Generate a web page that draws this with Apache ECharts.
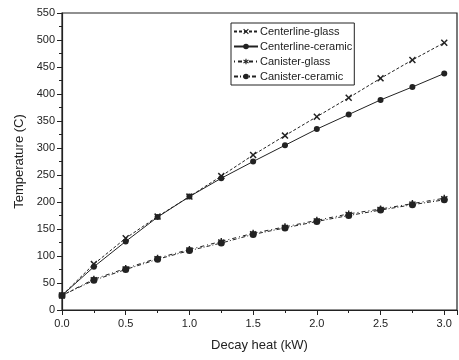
<!DOCTYPE html>
<html>
<head>
<meta charset="utf-8">
<script src="https://cdn.jsdelivr.net/npm/echarts@6/dist/echarts.min.js"></script>
<style>html,body{margin:0;padding:0;background:#fff}#c{width:459px;height:360px}</style>
</head>
<body>
<div id="c"></div>
<script>
const decayHeat = [0, 0.25, 0.5, 0.75, 1.0, 1.25, 1.5, 1.75, 2.0, 2.25, 2.5, 2.75, 3.0];
const centerlineGlass   = [27, 85, 133, 173, 210, 248, 287, 323, 358, 393, 429, 463, 495];
const centerlineCeramic = [27, 80, 127, 172, 210, 244, 275, 305, 335, 362, 389, 413, 438];
const canisterGlass     = [27, 57, 77, 96, 112, 127, 142, 154, 166, 178, 187, 197, 207];
const canisterCeramic   = [27, 55, 75, 94, 110, 124, 140, 152, 164, 175, 185, 195, 204];
const seriesNames = ['Centerline-glass', 'Centerline-ceramic', 'Canister-glass', 'Canister-ceramic'];
const xTickLabels = ['0.0', '0.5', '1.0', '1.5', '2.0', '2.5', '3.0'];

const ink = '#222';
const xSym = 'path://M0,1.5L1.5,0L5,3.5L8.5,0L10,1.5L6.5,5L10,8.5L8.5,10L5,6.5L1.5,10L0,8.5L3.5,5Z';
const starSym = 'path://M4,0H6V3.5L9,1.5L10,3.2L7,5L10,6.8L9,8.5L6,6.5V10H4V6.5L1,8.5L0,6.8L3,5L0,3.2L1,1.5L4,3.5Z';

function pairs(ys) { return decayHeat.map((x, i) => [x, ys[i]]); }
function mk(name, ys, symbol, size, lineType, width) {
  return {
    name, type: 'line', data: pairs(ys), symbol, symbolSize: size,
    lineStyle: { color: ink, width: width, type: lineType },
    itemStyle: { color: ink },
    emphasis: { disabled: true }, animation: false
  };
}

const chart = echarts.init(document.getElementById('c'), null, { renderer: 'canvas' });
chart.setOption({
  backgroundColor: '#fff',
  animation: false,
  textStyle: { fontFamily: 'Liberation Sans, Arial, sans-serif' },
  grid: { left: 62, right: 2, top: 13, bottom: 50, show: true, borderColor: ink, borderWidth: 1.2, backgroundColor: 'transparent' },
  legend: {
    orient: 'vertical', left: 231, top: 23,
    data: seriesNames,
    itemWidth: 24, itemHeight: 7, itemGap: 4,
    padding: [3, 2, 3, 2],
    borderColor: ink, borderWidth: 1,
    textStyle: { fontSize: 11, color: ink, fontFamily: 'Liberation Sans, Arial, sans-serif', padding: [0, 0, 0, -3] }
  },
  xAxis: {
    type: 'value', min: 0, max: 3.1, interval: 0.5,
    name: 'Decay heat (kW)', nameLocation: 'middle', nameGap: 29,
    nameTextStyle: { fontSize: 13, color: ink },
    axisLine: { onZero: false, lineStyle: { color: ink, width: 1.2 } },
    axisTick: { show: true, length: 5, lineStyle: { color: ink } },
    minorTick: { show: true, splitNumber: 2, length: 3, lineStyle: { color: ink } },
    splitLine: { show: false },
    axisLabel: {
      fontSize: 11, color: ink, margin: 8, showMaxLabel: false,
      formatter: v => { const i = Math.round(v / 0.5); return (Math.abs(v - i * 0.5) < 1e-6 && i < xTickLabels.length) ? xTickLabels[i] : ''; }
    }
  },
  yAxis: {
    type: 'value', min: 0, max: 550, interval: 50,
    name: 'Temperature (C)', nameLocation: 'middle', nameGap: 36,
    nameTextStyle: { fontSize: 13, color: ink },
    axisLine: { onZero: false, lineStyle: { color: ink, width: 1.2 } },
    axisTick: { show: true, length: 5, lineStyle: { color: ink } },
    minorTick: { show: true, splitNumber: 2, length: 3, lineStyle: { color: ink } },
    splitLine: { show: false },
    axisLabel: { fontSize: 11, color: ink, margin: 7 }
  },
  series: [
    mk(seriesNames[0], centerlineGlass, xSym, 7, [3, 2], 1),
    mk(seriesNames[1], centerlineCeramic, 'circle', 6, 'solid', 1),
    mk(seriesNames[2], canisterGlass, starSym, 7, [1, 3, 4, 3], 1),
    mk(seriesNames[3], canisterCeramic, 'circle', 7, [4, 2, 1, 2], 1)
  ]
});
</script>
</body>
</html>
